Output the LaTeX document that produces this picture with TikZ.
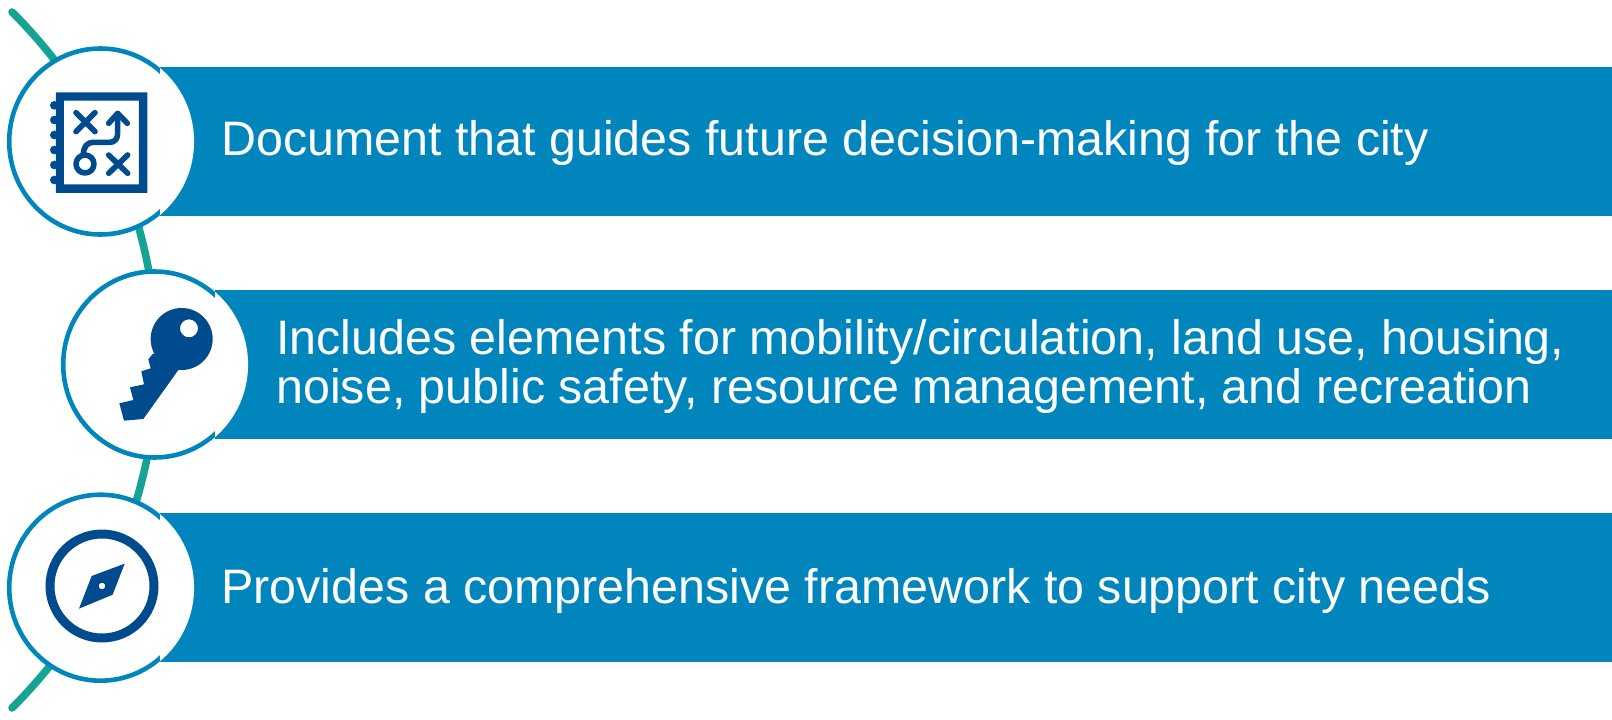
\documentclass[tikz,border=0pt]{standalone}
\usepackage{fontspec}
\usetikzlibrary{shapes.geometric}
\setmainfont{Liberation Sans}
\definecolor{barblue}{HTML}{0086BD}
\definecolor{iconblue}{HTML}{004B8D}
\definecolor{teal2}{HTML}{14A394}
\tikzset{
  barbox/.style={fill=barblue,draw=none,inner sep=0pt,anchor=north west},
  ringnode/.style={ellipse,draw=barblue,fill=white,line width=2.3pt,minimum width=91.3bp,minimum height=93bp,inner sep=0pt},
  ringcut/.style={ringnode,draw=white},
  bartext/.style={text=white,font=\fontsize{24.28}{24.28}\selectfont,anchor=base west,inner sep=0pt},
  iconline/.style={draw=iconblue,line width=2.8pt,line cap=round,line join=round},
  spine/.style={draw=teal2,line width=3.8pt,line cap=round}
}
\begin{document}
\begin{tikzpicture}[x=0.5bp,y=-0.5bp]
\useasboundingbox (0,0) rectangle (1612,720);
% spine
\coordinate (s0) at (12,12);
\coordinate (s1) at (12,708);
\coordinate (sm) at (157,360);
\draw[spine] (s0) .. controls (104.8,104) and (157,229.3) .. (sm) .. controls (157,490.7) and (104.8,616) .. (s1);
% bars
\node[barbox,minimum width=726bp,minimum height=74.5bp] (bar1) at (160,67) {};
\node[barbox,minimum width=698.5bp,minimum height=74.5bp] (bar2) at (215,290) {};
\node[barbox,minimum width=726bp,minimum height=74.5bp] (bar3) at (160,513) {};
% rings
\node[ringnode] (ring1) at (100.5,141.5) {};
\node[ringnode] (ring2) at (154.5,364.5) {};
\node[ringnode] (ring3) at (100.5,587.7) {};
% the ring's stroke does not show where it crosses a bar
\begin{scope}
  \clip (bar1.north west) rectangle (bar1.south east);
  \node[ringcut] (cut1) at (100.5,141.5) {};
\end{scope}
\begin{scope}
  \clip (bar2.north west) rectangle (bar2.south east);
  \node[ringcut] (cut2) at (154.5,364.5) {};
\end{scope}
\begin{scope}
  \clip (bar3.north west) rectangle (bar3.south east);
  \node[ringcut] (cut3) at (100.5,587.7) {};
\end{scope}
% text
\node[bartext] (t1) at (221,155) {Document that guides future decision-making for the city};
\node[bartext] (t2a) at (276,354) {Includes elements for mobility/circulation, land use, housing,};
\node[bartext] (t2b) at (276,403) {noise, public safety, resource management, and recreation};
\node[bartext] (t3) at (221,603) {Provides a comprehensive framework to support city needs};
% icon 1: notebook
\begin{scope}[x=0.5bp/3,y=-0.5bp/3]
  \fill[iconblue,even odd rule] (168,277) rectangle (442,579) (192,302) rectangle (417,553);
  \foreach \yy in {316,360,405,450,495,540}
    \fill[iconblue] (163,\yy) circle (13);
  \draw[iconline] (228,338) -- (285,395) (285,338) -- (228,395);
  \draw[iconline] (326,465) -- (383,520) (383,465) -- (326,520);
  \draw[iconline] (255,492) circle (27);
  \draw[iconline] (250,465) .. controls (250,440) and (262,427) .. (280,427) -- (330,427) .. controls (345,427) and (353,415) .. (353,400) -- (353,342);
  \draw[iconline] (326,370) -- (353,340) -- (382,370);
\end{scope}
% icon 2: key
\begin{scope}[shift={(40,230)},x=0.5bp/3,y=-0.5bp/3]
  \fill[iconblue,even odd rule] (425,327) circle (93) (447,295) circle (27);
  \fill[iconblue] (338,372) -- (325,388) -- (332,415) -- (304,424) -- (312,463) -- (270,472) -- (280,510) -- (238,520) -- (252,572) -- (310,567) -- (415,420) -- (420,340) -- cycle;
\end{scope}
% icon 3: compass
\begin{scope}[shift={(0,460)},x=0.5bp/3,y=-0.5bp/3]
  \draw[draw=iconblue,line width=4.5pt] (306,378) circle (156);
  \fill[iconblue,even odd rule] (374,311) -- (338,404) -- (237,446) -- (275,348) -- cycle (306,378) circle (10);
\end{scope}
\end{tikzpicture}
\end{document}
